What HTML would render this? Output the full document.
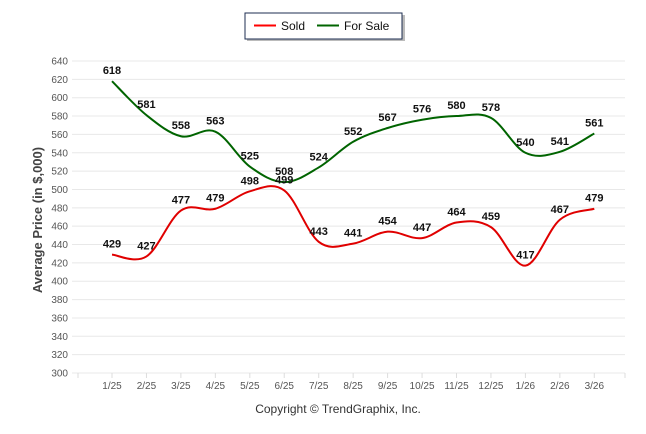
<!DOCTYPE html>
<html><head><meta charset="utf-8"><style>
body{margin:0;background:#fff;font-family:"Liberation Sans",sans-serif;}
#wrap{position:relative;width:646px;height:434px;overflow:hidden;}
</style></head><body>
<div id="wrap">
<svg id="svg" width="646" height="434"></svg>
</div>
<script>
const categories=["1/25","2/25","3/25","4/25","5/25","6/25","7/25","8/25","9/25","10/25","11/25","12/25","1/26","2/26","3/26"];
const soldValues=[429,427,477,479,498,499,443,441,454,447,464,459,417,467,479];
const forSaleValues=[618,581,558,563,525,508,524,552,567,576,580,578,540,541,561];
const yTicks=[300,320,340,360,380,400,420,440,460,480,500,520,540,560,580,600,620,640];
const NS="http://www.w3.org/2000/svg";
const svg=document.getElementById('svg');
function el(t,a,p){const e=document.createElementNS(NS,t);for(const k in a)e.setAttribute(k,a[k]);(p||svg).appendChild(e);return e;}
const x0=112,dx=34.45,yTop=61,yBot=373,vMin=300,vMax=640;
function X(i){return x0+i*dx;}
function Y(v){return yBot-(v-vMin)/(vMax-vMin)*(yBot-yTop);}
// grid
yTicks.forEach(v=>{
 const l=el('line',{x1:72,x2:625,y1:Y(v),y2:Y(v),stroke:'#e8e8e8','stroke-width':1});
 
 const t=el('text',{x:68,y:Y(v)+3.5,'text-anchor':'end','font-size':'10',fill:'#555'});
 t.textContent=v;
});
el('line',{x1:78,x2:78,y1:373,y2:378,stroke:'#ddd'});
categories.forEach((c,i)=>{
 el('line',{x1:X(i),x2:X(i),y1:373,y2:378,stroke:'#ddd'});
 const t=el('text',{x:X(i),y:389,'text-anchor':'middle','font-size':'10',fill:'#555'});
 t.textContent=c;
});
el('line',{x1:625,x2:625,y1:373,y2:378,stroke:'#ddd'});
const yt=el('text',{x:0,y:0,transform:'translate(42,220) rotate(-90)','text-anchor':'middle','font-size':'13','font-weight':'bold',fill:'#444'});
yt.textContent='Average Price (in $,000)';
const cp=el('text',{x:338,y:413,'text-anchor':'middle','font-size':'12',fill:'#333'});
cp.textContent='Copyright © TrendGraphix, Inc.';
function path(vals){
 const p=vals.map((v,i)=>[X(i),Y(v)]);let d='M'+p[0][0]+','+p[0][1];
 for(let i=0;i<p.length-1;i++){
  const p0=p[i-1]||p[i],p1=p[i],p2=p[i+1],p3=p[i+2]||p2,t=0.17;
  d+=' C'+(p1[0]+(p2[0]-p0[0])*t)+','+(p1[1]+(p2[1]-p0[1])*t)+' '+(p2[0]-(p3[0]-p1[0])*t)+','+(p2[1]-(p3[1]-p1[1])*t)+' '+p2[0]+','+p2[1];
 }return d;}
function series(vals,color,name){
 const s=el('path',{d:path(vals),fill:'none',stroke:color,'stroke-width':2});
 
 vals.forEach((v,i)=>{
  const t=el('text',{x:X(i),y:Y(v)-7,'text-anchor':'middle','font-size':'11','font-weight':'bold',fill:'#111'});
  t.textContent=v;
 });
}
series(forSaleValues,'#006400','for-sale');
series(soldValues,'#e00000','sold');
// legend
const g=el('g',{});
el('rect',{x:247,y:15,width:158,height:26,fill:'#bbb'},g);
el('rect',{x:245,y:13,width:157,height:26,fill:'#fff',stroke:'#1c2e50','stroke-width':1},g);
el('line',{x1:254,x2:276,y1:25.5,y2:25.5,stroke:'#f00','stroke-width':2},g);
const l1=el('text',{x:281,y:30,'font-size':'12',fill:'#111'},g);l1.textContent='Sold';

el('line',{x1:317,x2:339,y1:25.5,y2:25.5,stroke:'#006400','stroke-width':2},g);
const l2=el('text',{x:344,y:30,'font-size':'12',fill:'#111'},g);l2.textContent='For Sale';

</script>
</body></html>
